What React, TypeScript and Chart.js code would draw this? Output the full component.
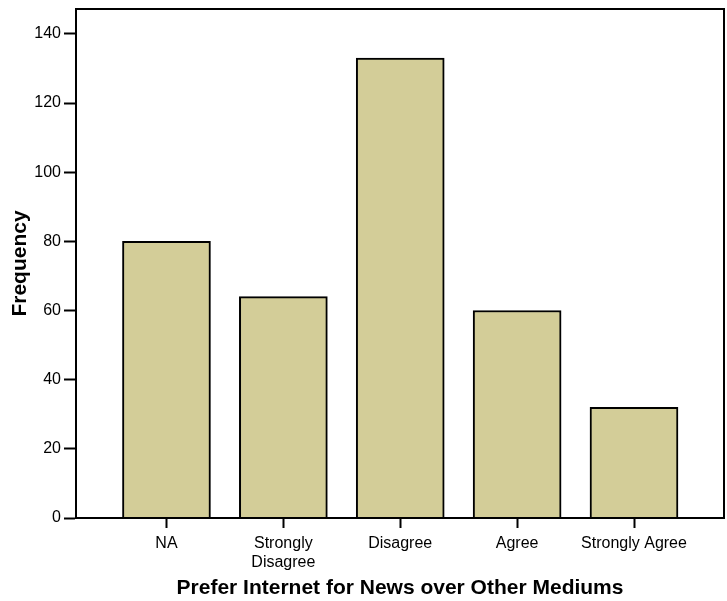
import React, { useEffect, useRef } from "react";
import { Chart, registerables } from "chart.js";

Chart.register(...registerables);

const categories: (string | string[])[] = ["NA", ["Strongly", "Disagree"], "Disagree", "Agree", "Strongly Agree"];
const frequencies: number[] = [80, 64, 133, 60, 32];
const yTicks: number[] = [0, 20, 40, 60, 80, 100, 120, 140];
const xTitle = "Prefer Internet for News over Other Mediums";
const yTitle = "Frequency";

const FONT = "Arial, 'Liberation Sans', Helvetica, sans-serif";

const frame = {
  id: "frame",
  afterDatasetsDraw(chart: any) {
    const { ctx, chartArea } = chart;
    ctx.save();
    ctx.strokeStyle = "#000";
    ctx.lineWidth = 2;
    ctx.strokeRect(chartArea.left, chartArea.top, chartArea.right - chartArea.left, chartArea.bottom - chartArea.top);
    ctx.restore();
  },
};

export default function App() {
  const ref = useRef<HTMLCanvasElement>(null);
  useEffect(() => {
    document.body.style.margin = "0";
    const ctx = ref.current!;
    const chart = new Chart(ctx, {
      type: "bar",
      data: {
        datasets: [
          {
            data: frequencies.map((v, i) => ({ x: i, y: v })),
            backgroundColor: "#d3cd98",
            borderColor: "#000",
            borderWidth: 2,
            barThickness: 88,
          } as any,
        ],
      },
      options: {
        responsive: false,
        animation: false,
        devicePixelRatio: 1,
        layout: { padding: { top: 9, right: 3, left: 0, bottom: 0 } },
        plugins: { legend: { display: false }, tooltip: { enabled: false } },
        scales: {
          x: {
            type: "linear",
            offset: false,
            min: -0.774,
            max: 4.77,
            afterBuildTicks: (s: any) => {
              s.ticks = categories.map((_, i) => ({ value: i }));
            },
            afterFit: (s: any) => {
              s.height = 83;
              s.paddingLeft = 0;
              s.paddingRight = 0;
            },
            ticks: {
              autoSkip: false,
              maxRotation: 0,
              padding: 6,
              color: "#000",
              font: { family: FONT, size: 16, lineHeight: 1.2 },
              callback: (v: any) => categories[v as number] ?? "",
            },
            grid: {
              offset: false,
              drawOnChartArea: false,
              drawTicks: true,
              tickLength: 10,
              tickColor: "#000",
              tickWidth: 2,
            },
            border: { color: "#000", width: 2 },
            title: {
              display: true,
              text: xTitle,
              color: "#000",
              font: { family: FONT, size: 21, weight: "bold", lineHeight: 1.2 },
              padding: { top: 0, bottom: 0 },
            },
          },
          y: {
            type: "linear",
            min: 0,
            max: 147.2,
            afterBuildTicks: (s: any) => {
              s.ticks = yTicks.map((v) => ({ value: v }));
            },
            afterFit: (s: any) => {
              s.width = 76;
              s.paddingTop = 0;
              s.paddingBottom = 0;
            },
            ticks: {
              padding: 3,
              color: "#000",
              font: { family: FONT, size: 16 },
            },
            grid: {
              drawOnChartArea: false,
              drawTicks: true,
              tickLength: 12,
              tickColor: "#000",
              tickWidth: 2,
            },
            border: { color: "#000", width: 2 },
            title: {
              display: true,
              text: yTitle,
              color: "#000",
              font: { family: FONT, size: 21, weight: "bold", lineHeight: 1.2 },
              padding: { top: 8, bottom: 0 },
            },
          },
        },
      } as any,
      plugins: [frame],
    });
    return () => chart.destroy();
  }, []);
  return <canvas ref={ref} width={727} height={601} style={{ display: "block" }} />;
}
